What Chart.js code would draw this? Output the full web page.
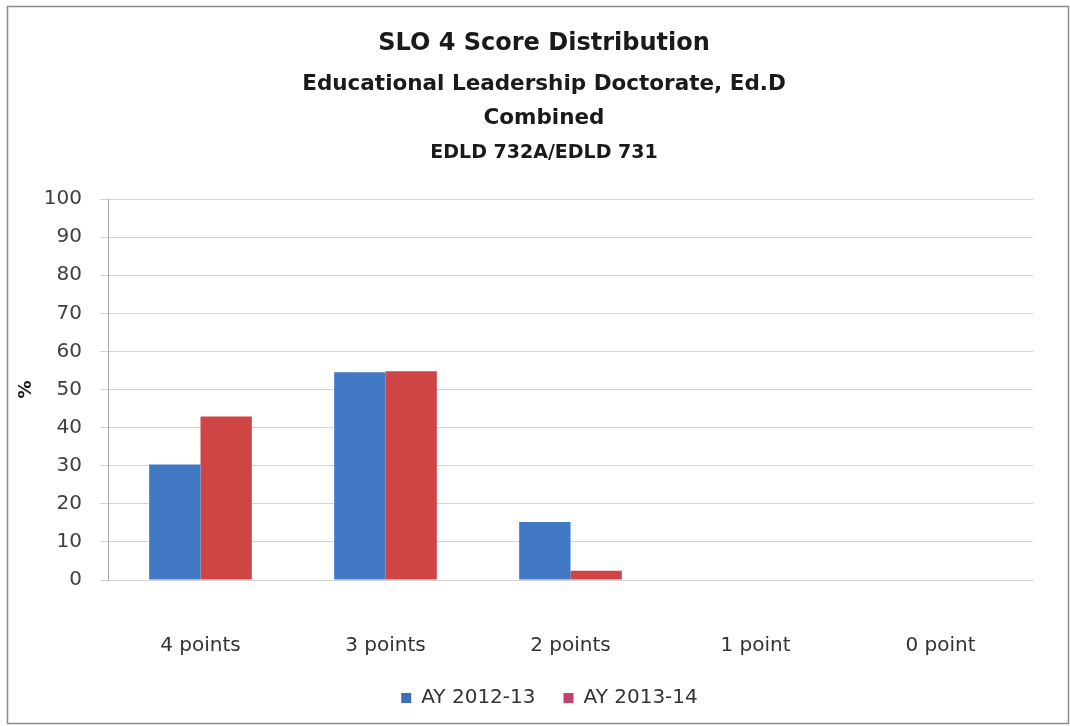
<!DOCTYPE html>
<html>
<head>
<meta charset="utf-8">
<script src="https://cdn.jsdelivr.net/npm/chart.js@4.4.1/dist/chart.umd.min.js"></script>
<style>
  html, body { margin: 0; padding: 0; background: #ffffff; }
  #wrap { width: 1070px; height: 726px; }
</style>
</head>
<body>
<div id="wrap"><canvas id="c" width="1070" height="726"></canvas></div>
<script>
const categories = ['4 points', '3 points', '2 points', '1 point', '0 point'];
const seriesNames = ['AY 2012-13', 'AY 2013-14'];
const ay201213 = [30.3, 54.5, 15.2, 0, 0];
const ay201314 = [42.9, 54.8, 2.4, 0, 0];
const yTicks = [0, 10, 20, 30, 40, 50, 60, 70, 80, 90, 100];
const titleLines = [
  'SLO 4 Score Distribution',
  'Educational Leadership Doctorate, Ed.D',
  'Combined',
  'EDLD 732A/EDLD 731'
];
const yAxisTitle = '%';

const FONT = '"DejaVu Sans", "Open Sans", sans-serif';

const frameAndTitles = {
  id: 'frameAndTitles',
  afterLayout(chart) {
    // nudge the legend block so it sits centred like the original
    const lg = chart.legend;
    if (lg) { lg.left += 27; lg.right += 27; }
  },
  beforeDraw(chart) {
    const ctx = chart.ctx;
    ctx.save();
    ctx.fillStyle = '#ffffff';
    ctx.fillRect(0, 0, chart.width, chart.height);
    ctx.strokeStyle = '#8c8c8c';
    ctx.lineWidth = 1.5;
    ctx.strokeRect(7.5, 6.5, 1061, 717);
    ctx.restore();
  },
  afterDraw(chart) {
    const ctx = chart.ctx;
    ctx.save();
    ctx.fillStyle = '#1a1a1a';
    ctx.textAlign = 'center';
    ctx.textBaseline = 'middle';
    const cx = 544;
    const specs = [
      { size: 24, y: 44 },
      { size: 21.5, y: 84 },
      { size: 21.5, y: 118 },
      { size: 19, y: 153 }
    ];
    titleLines.forEach((t, i) => {
      ctx.font = 'bold ' + specs[i].size + 'px ' + FONT;
      ctx.fillText(t, cx, specs[i].y);
    });
    ctx.restore();
  }
};

new Chart(document.getElementById('c'), {
  type: 'bar',
  data: {
    labels: categories,
    datasets: [
      { label: seriesNames[0], data: ay201213, backgroundColor: '#4279c4', borderWidth: 0 },
      { label: seriesNames[1], data: ay201314, backgroundColor: '#cf4545', borderWidth: 0 }
    ]
  },
  options: {
    responsive: false,
    animation: false,
    devicePixelRatio: 1,
    layout: { padding: { top: 199, left: 12, right: 37, bottom: 8 } },
    datasets: { bar: { categoryPercentage: 0.555, barPercentage: 1.0 } },
    plugins: {
      title: { display: false },
      tooltip: { enabled: false },
      legend: {
        display: true,
        position: 'bottom',
        labels: {
          boxWidth: 10, boxHeight: 10,
          color: '#333333',
          font: { family: FONT, size: 20 },
          padding: 28,
          generateLabels(chart) {
            const cols = ['#3c6fb5', '#c2406a'];
            return chart.data.datasets.map((ds, i) => ({
              text: ds.label, fillStyle: cols[i], strokeStyle: cols[i], lineWidth: 0,
              fontColor: '#333333', datasetIndex: i, hidden: false
            }));
          }
        }
      }
    },
    scales: {
      x: {
        grid: { display: false, drawTicks: false },
        border: { display: true, color: '#d4d4d4', width: 1 },
        ticks: { color: '#333333', font: { family: FONT, size: 20 }, padding: 54 },
        afterFit(scale) { scale.height = 80; }
      },
      y: {
        min: 0, max: 100,
        afterBuildTicks(scale) { scale.ticks = yTicks.map(v => ({ value: v })); },
        grid: { color: '#d4d4d4', lineWidth: 1, tickLength: 8, drawTicks: true },
        border: { display: true, color: '#a6a6a6', width: 1 },
        ticks: { color: '#404040', font: { family: FONT, size: 20 }, padding: 18 },
        title: {
          display: true, text: yAxisTitle, color: '#1a1a1a',
          font: { family: FONT, size: 18, weight: 'bold' },
          padding: { top: 4, bottom: 0 }
        },
        afterFit(scale) { scale.width = 96; }
      }
    }
  },
  plugins: [frameAndTitles]
});
</script>
</body>
</html>
